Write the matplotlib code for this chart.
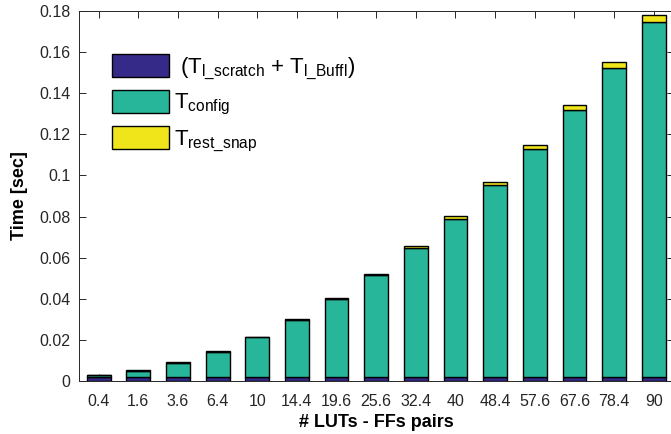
#!/usr/bin/env python3
"""Stacked bar chart of snapshot timing vs. number of LUT-FF pairs."""

import matplotlib

matplotlib.use("Agg")
import matplotlib.pyplot as plt
import numpy as np

plt.rcParams["font.family"] = ["Liberation Sans", "DejaVu Sans"]
plt.rcParams["mathtext.fontset"] = "custom"
plt.rcParams["mathtext.rm"] = "Liberation Sans"
plt.rcParams["mathtext.it"] = "Liberation Sans"

luts_ffs = ["0.4", "1.6", "3.6", "6.4", "10", "14.4", "19.6", "25.6",
            "32.4", "40", "48.4", "57.6", "67.6", "78.4", "90"]
total = [0.0028, 0.0052, 0.0091, 0.0145, 0.0215, 0.0301, 0.0405, 0.0522,
         0.0655, 0.0803, 0.0969, 0.1148, 0.1341, 0.1553, 0.1779]
t_scratch_buff = [0.0018] * 15
t_rest_snap = [0.0001, 0.0001, 0.0002, 0.0002, 0.0003, 0.0004, 0.0005, 0.0007,
               0.0010, 0.0013, 0.0016, 0.0020, 0.0023, 0.0028, 0.0032]
t_config = [t - a - b for t, a, b in zip(total, t_scratch_buff, t_rest_snap)]

labels = [r" ($\mathregular{T_{l\_scratch}}$ + $\mathregular{T_{l\_Buffl}}$)",
          r"$\mathregular{T_{config}}$",
          r"$\mathregular{T_{rest\_snap}}$"]
colors = ["#352a87", "#27b69a", "#f0e51a"]

fig = plt.figure(figsize=(6.71, 4.34), dpi=100)
ax = fig.add_axes([78.9 / 671, 53 / 434, 594.6 / 671, 370 / 434])

x = np.arange(1, len(luts_ffs) + 1)
bottom = np.zeros(len(x))
for values, color, label in zip([t_scratch_buff, t_config, t_rest_snap], colors, labels):
    ax.bar(x, values, width=0.6, bottom=bottom, color=color, edgecolor="black",
           linewidth=1.0, label=label, zorder=2)
    bottom += np.array(values)

ax.set_xlim(0.5, 15.5)
ax.set_ylim(0, 0.18)
ax.set_xticks(x)
ax.set_xticklabels(luts_ffs)
ax.set_yticks(np.arange(0, 0.181, 0.02))
ax.set_yticklabels(["0", "0.02", "0.04", "0.06", "0.08", "0.1", "0.12", "0.14", "0.16", "0.18"])
ax.tick_params(direction="in", length=5, width=0.7, colors="#262626", labelsize=11.5,
               top=True, right=True)
ax.tick_params(axis="x", pad=9)
ax.tick_params(axis="y", pad=6)
for spine in ax.spines.values():
    spine.set_color("#262626")
    spine.set_linewidth(0.7)

ax.set_xlabel("# LUTs - FFs pairs", fontsize=13, fontweight="bold", labelpad=4)
ax.set_ylabel("Time [sec]", fontsize=13, fontweight="bold", labelpad=8)

ax.legend(loc="upper left", bbox_to_anchor=(0.056, 0.884), frameon=False,
          fontsize=16, handlelength=2.55, handleheight=1.2, handletextpad=0.22,
          labelspacing=0.38, borderpad=0, borderaxespad=0)

fig.savefig("out.png")
